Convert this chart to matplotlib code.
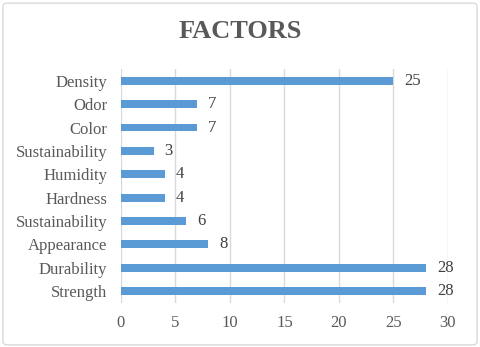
import matplotlib.pyplot as plt
from matplotlib.patches import FancyBboxPatch

# categories listed bottom to top
factors = ['Strength', 'Durability', 'Appearance', 'Sustainability', 'Hardness',
           'Humidity', 'Sustainability', 'Color', 'Odor', 'Density']
counts = [28, 28, 8, 6, 4, 4, 3, 7, 7, 25]
xticks = [0, 5, 10, 15, 20, 25, 30]

plt.rcParams['font.family'] = ['Liberation Serif', 'DejaVu Serif']
txt = '#595959'

fig = plt.figure(figsize=(4.8, 3.47), dpi=100)
ax = fig.add_axes([0.252, 0.127, 0.681, 0.674])

pos = list(range(len(factors)))
ax.barh(pos, counts, height=0.34, color='#5B9BD5', zorder=3)
for p, v in zip(pos, counts):
    ax.text(v + 1.0, p, str(v), va='center', ha='left', fontsize=12, color='#404040')

ax.set_xlim(0, 30)
ax.set_ylim(-0.5, len(factors) - 0.5)
ax.set_xticks(xticks)
ax.set_yticks(pos)
ax.set_yticklabels(factors)
ax.tick_params(axis='both', length=0, labelsize=12, labelcolor=txt)
ax.tick_params(axis='x', pad=9)
ax.tick_params(axis='y', pad=10)
ax.grid(axis='x', color='#D9D9D9', linewidth=1, zorder=0)
for s in ax.spines.values():
    s.set_visible(False)

fig.text(0.5, 0.908, 'FACTORS', ha='center', va='center', fontsize=19,
         fontweight='bold', color=txt)

border = FancyBboxPatch((0.006, 0.006), 0.988, 0.985, boxstyle='round,pad=0,rounding_size=0.01',
                        transform=fig.transFigure, fill=False, edgecolor='#D9D9D9', linewidth=1)
fig.patches.append(border)

fig.savefig('out.png', dpi=100)
